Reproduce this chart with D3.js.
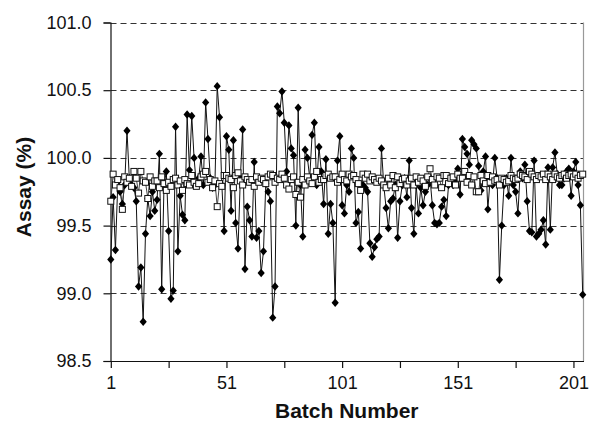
<!DOCTYPE html>
<html>
<head>
<meta charset="utf-8">
<script src="https://cdn.jsdelivr.net/npm/d3@7"></script>
<style>
  html, body { margin: 0; padding: 0; background: #fff; }
  svg { display: block; }
  text { font-family: "Liberation Sans", Arial, sans-serif; fill: #111; }
</style>
</head>
<body>
<svg id="chart" width="590" height="423"></svg>
<script>
// ---- data ----
const batches = d3.range(1, 206);
const diamondValues = [
  99.25, 99.71, 99.32, 99.80, 99.75, 99.66, 99.80, 100.20, 99.85, 99.80,
  99.78, 99.68, 99.05, 99.19, 98.79, 99.44, 99.70, 99.57, 99.75, 99.61,
  99.69, 100.03, 99.03, 99.80, 99.90, 99.46, 98.96, 99.02, 100.23, 99.31,
  99.72, 99.58, 99.54, 100.32, 99.91, 100.31, 100.00, 99.80, 99.85, 100.01,
  99.80, 100.41, 100.14, 99.85, 99.78, 99.80, 100.53, 100.30, 99.80, 99.46,
  100.16, 100.06, 99.61, 100.13, 99.52, 99.33, 99.85, 100.21, 99.18, 99.64,
  99.54, 99.42, 99.97, 99.41, 99.46, 99.15, 99.31, 99.81, 99.75, 99.68,
  98.82, 99.05, 100.38, 100.33, 100.49, 100.26, 99.90, 100.24, 100.07, 100.02,
  99.50, 100.37, 99.80, 99.42, 100.06, 100.00, 99.85, 100.17, 100.26, 99.80,
  100.08, 99.90, 99.66, 99.99, 99.44, 99.66, 99.52, 98.93, 99.98, 100.16,
  99.65, 99.59, 99.80, 99.75, 100.07, 100.00, 99.52, 99.60, 99.33, 99.80,
  99.78, 99.75, 99.37, 99.27, 99.34, 99.40, 99.42, 100.07, 99.80, 99.63,
  99.48, 99.68, 99.70, 99.80, 99.41, 99.68, 99.80, 99.85, 99.71, 99.98,
  99.63, 99.44, 99.80, 99.59, 99.78, 99.65, 99.75, 99.80, 99.85, 99.65,
  99.52, 99.51, 99.52, 99.64, 99.69, 99.57, 99.80, 99.85, 99.80, 99.82,
  99.92, 99.73, 100.14, 100.08, 100.03, 99.95, 100.13, 100.10, 100.07, 99.94,
  99.76, 99.90, 100.01, 99.62, 99.85, 99.80, 100.00, 99.85, 99.10, 99.50,
  99.80, 99.85, 99.72, 100.00, 99.80, 99.75, 99.59, 99.90, 99.85, 99.95,
  99.68, 99.46, 99.45, 99.98, 99.42, 99.44, 99.47, 99.54, 99.36, 99.93,
  99.47, 99.93, 100.04, 99.88, 99.80, 99.80, 99.85, 99.90, 99.92, 99.72,
  99.90, 99.97, 99.80, 99.65, 98.99
];
const squareValues = [
  99.68, 99.88, 99.80, 99.84, 99.78, 99.62, 99.86, 99.82, 99.85, 99.79,
  99.90, 99.85, 99.74, 99.90, 99.83, 99.82, 99.70, 99.86, 99.79, 99.83,
  99.83, 99.78, 99.86, 99.81, 99.76, 99.82, 99.79, 99.84, 99.85, 99.80,
  99.83, 99.76, 99.84, 99.81, 99.80, 99.87, 99.82, 99.79, 99.81, 99.86,
  99.88, 99.90, 99.82, 99.84, 99.78, 99.83, 99.64, 99.81, 99.79, 99.87,
  99.87, 99.85, 99.84, 99.78, 99.87, 99.89, 99.83, 99.80, 99.86, 99.84,
  99.82, 99.84, 99.79, 99.86, 99.82, 99.85, 99.84, 99.81, 99.86, 99.88,
  99.87, 99.82, 99.85, 99.84, 99.88, 99.85, 99.80, 99.77, 99.84, 99.86,
  99.73, 99.82, 99.71, 99.84, 99.80, 99.86, 99.83, 99.81, 99.86, 99.90,
  99.82, 99.84, 99.84, 99.87, 99.88, 99.85, 99.86, 99.86, 99.82, 99.84,
  99.88, 99.84, 99.83, 99.88, 99.86, 99.87, 99.84, 99.81, 99.76, 99.88,
  99.85, 99.88, 99.83, 99.86, 99.84, 99.82, 99.85, 99.83, 99.80, 99.78,
  99.85, 99.80, 99.87, 99.78, 99.86, 99.81, 99.84, 99.85, 99.80, 99.83,
  99.85, 99.80, 99.86, 99.82, 99.85, 99.83, 99.79, 99.86, 99.92, 99.84,
  99.80, 99.86, 99.85, 99.78, 99.87, 99.87, 99.81, 99.85, 99.86, 99.80,
  99.88, 99.85, 99.85, 99.90, 99.82, 99.87, 99.80, 99.86, 99.75, 99.75,
  99.87, 99.83, 99.81, 99.87, 99.82, 99.86, 99.83, 99.84, 99.80, 99.85,
  99.84, 99.82, 99.83, 99.87, 99.85, 99.84, 99.85, 99.88, 99.87, 99.86,
  99.84, 99.90, 99.88, 99.86, 99.84, 99.87, 99.86, 99.88, 99.84, 99.88,
  99.86, 99.84, 99.88, 99.86, 99.85, 99.87, 99.88, 99.85, 99.87, 99.88,
  99.86, 99.88, 99.85, 99.87, 99.88
];
const yTicks = [98.5, 99.0, 99.5, 100.0, 100.5, 101.0];
const xLabelTicks = [1, 51, 101, 151, 201];
const xMinorTicks = [1, 26, 51, 76, 101, 126, 151, 176, 201];
const xTitle = "Batch Number";
const yTitle = "Assay (%)";

// ---- layout ----
const svg = d3.select("#chart");
const pLeft = 110.5, pRight = 583, pTop = 22.5, pBottom = 361;
const x = d3.scaleLinear().domain([1, 205]).range([pLeft + 0.3, pRight - 0.3]);
const y = d3.scaleLinear().domain([98.5, 101.0]).range([pBottom, pTop]);

// gridlines (dashed)
svg.append("g").selectAll("line").data(yTicks.filter(d => d > 98.5)).join("line")
  .attr("x1", pLeft).attr("x2", pRight)
  .attr("y1", d => Math.round(y(d)) + 0.5).attr("y2", d => Math.round(y(d)) + 0.5)
  .attr("stroke", "#333").attr("stroke-width", 1.1).attr("stroke-dasharray", "6,4");

// right border
svg.append("line").attr("x1", pRight + 0.5).attr("x2", pRight + 0.5)
  .attr("y1", pTop).attr("y2", pBottom).attr("stroke", "#999").attr("stroke-width", 1.2);

// axes
const yAxis = d3.axisLeft(y).tickValues(yTicks).tickFormat(d3.format(".1f")).tickSize(7).tickPadding(12);
const gy = svg.append("g").attr("transform", `translate(${pLeft},0)`).call(yAxis);
gy.select(".domain").attr("stroke", "#111").attr("stroke-width", 1.2);
gy.selectAll(".tick line").attr("stroke", "#111").attr("stroke-width", 1.2);
gy.selectAll(".tick text").style("font-size", "18px").attr("fill", "#111")
  .style("font-family", '"Liberation Sans", Arial, sans-serif');

const xAxis = d3.axisBottom(x).tickValues(xMinorTicks)
  .tickFormat(d => xLabelTicks.includes(d) ? d : "").tickSize(7).tickPadding(8).tickSizeOuter(0);
const gx = svg.append("g").attr("transform", `translate(0,${pBottom})`).call(xAxis);
gx.select(".domain").attr("stroke", "#111").attr("stroke-width", 1.2)
  .attr("d", `M${pLeft},0.5H${pRight + 1}`);
gx.selectAll(".tick line").attr("stroke", "#111").attr("stroke-width", 1.2);
gx.selectAll(".tick text").style("font-size", "18px").attr("fill", "#111")
  .style("font-family", '"Liberation Sans", Arial, sans-serif');

// titles
svg.append("text").attr("x", (pLeft + pRight) / 2).attr("y", 418)
  .attr("text-anchor", "middle").style("font-size", "21px").style("font-weight", "bold")
  .text(xTitle);
svg.append("text").attr("transform", `translate(31,187) rotate(-90)`)
  .attr("text-anchor", "middle").style("font-size", "21px").style("font-weight", "bold")
  .text(yTitle);

// series
const dData = batches.map((b, i) => ({ b, v: diamondValues[i] }));
const sData = batches.map((b, i) => ({ b, v: squareValues[i] }));
const line = d3.line().x(d => x(d.b)).y(d => y(d.v));

svg.append("path").datum(dData).attr("d", line)
  .attr("fill", "none").attr("stroke", "#111").attr("stroke-width", 1);
svg.append("path").datum(sData).attr("d", line)
  .attr("fill", "none").attr("stroke", "#444").attr("stroke-width", 1);

const diamondPath = "M0,-4.2L3.6,0L0,4.2L-3.6,0Z";
svg.append("g").selectAll("path").data(dData).join("path")
  .attr("d", diamondPath)
  .attr("transform", d => `translate(${x(d.b)},${y(d.v)})`)
  .attr("fill", "#000");

svg.append("g").selectAll("rect").data(sData).join("rect")
  .attr("x", d => x(d.b) - 3).attr("y", d => y(d.v) - 3)
  .attr("width", 6).attr("height", 6)
  .attr("fill", "#fff").attr("stroke", "#111").attr("stroke-width", 1);
</script>
</body>
</html>
